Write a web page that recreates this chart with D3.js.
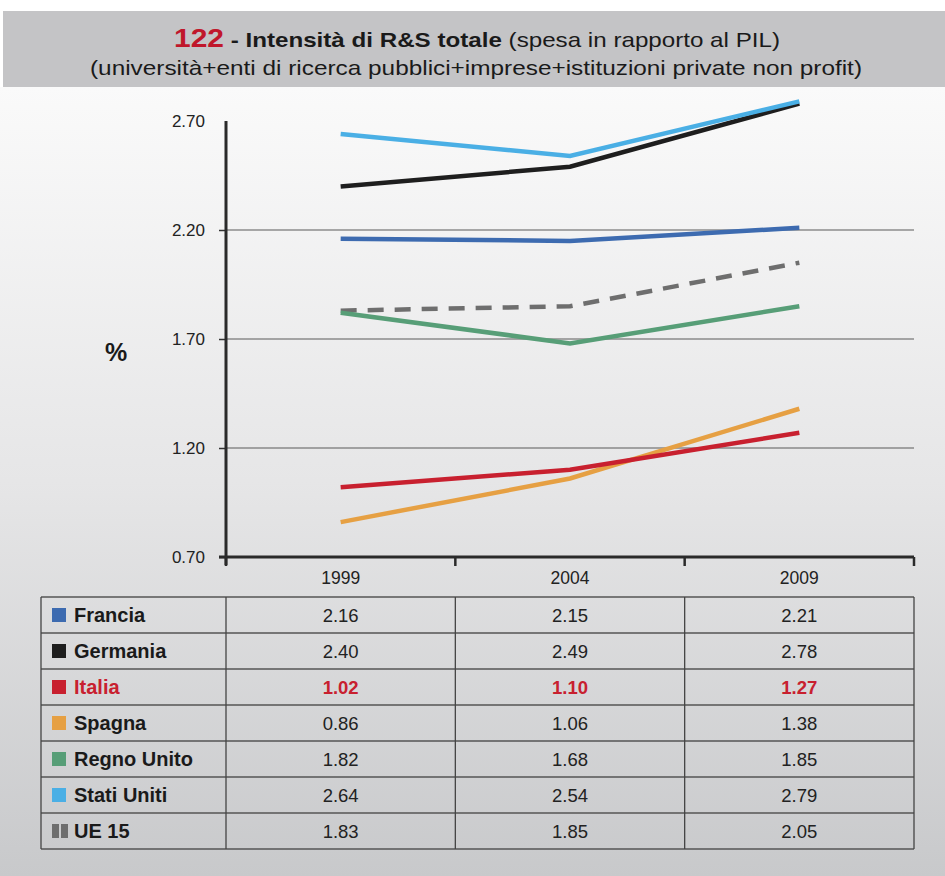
<!DOCTYPE html>
<html>
<head>
<meta charset="utf-8">
<script src="https://cdn.jsdelivr.net/npm/d3@7/dist/d3.min.js"></script>
<style>
  html, body { margin: 0; padding: 0; background: #ffffff; }
  svg { display: block; }
  text { font-family: "Liberation Sans", Arial, Helvetica, sans-serif; }
</style>
</head>
<body>
<svg id="chart" width="945" height="876"></svg>
<script>
// Years on the x axis
const years = ["1999", "2004", "2009"];

// Series names, as shown in the table
const countries = ["Francia", "Germania", "Italia", "Spagna", "Regno Unito", "Stati Uniti", "UE 15"];

// R&D intensity (% of GDP) for each series, per year
const francia    = [2.16, 2.15, 2.21];
const germania   = [2.40, 2.49, 2.78];
const italia     = [1.02, 1.10, 1.27];
const spagna     = [0.86, 1.06, 1.38];
const regnoUnito = [1.82, 1.68, 1.85];
const statiUniti = [2.64, 2.54, 2.79];
const ue15       = [1.83, 1.85, 2.05];

// Y axis tick labels
const yTicks = [0.70, 1.20, 1.70, 2.20, 2.70];

const seriesValues = [francia, germania, italia, spagna, regnoUnito, statiUniti, ue15];
const colors = ["#3d6bb0", "#1e1e1e", "#c8202f", "#e6a043", "#579e77", "#4aafe5", "#6e6e6e"];

const svg = d3.select("#chart");

// ---- background ----
const defs = svg.append("defs");
const grad = defs.append("linearGradient").attr("id", "bg").attr("x1", 0).attr("y1", 0).attr("x2", 0).attr("y2", 1);
grad.append("stop").attr("offset", "0%").attr("stop-color", "#fafafa");
grad.append("stop").attr("offset", "50%").attr("stop-color", "#e6e6e7");
grad.append("stop").attr("offset", "100%").attr("stop-color", "#c8c9cb");
svg.append("rect").attr("x", 0).attr("y", 87).attr("width", 945).attr("height", 789).attr("fill", "url(#bg)");

// ---- title bar ----
svg.append("rect").attr("x", 3).attr("y", 11).attr("width", 942).attr("height", 76).attr("fill", "#c4c4c6");

function fitWidth(sel, w) {
  sel.attr("textLength", w).attr("lengthAdjust", "spacingAndGlyphs");
}

const t1 = svg.append("text").attr("x", 477).attr("y", 47).attr("text-anchor", "middle").attr("fill", "#1a1a1a");
t1.append("tspan").attr("font-size", 26).attr("font-weight", "bold").attr("fill", "#c0172b").text("122");
t1.append("tspan").attr("font-size", 21).attr("font-weight", "bold").text(" - Intensità di R&S totale ");
t1.append("tspan").attr("font-size", 21).text("(spesa in rapporto al PIL)");
fitWidth(t1, 606);

const t2 = svg.append("text").attr("x", 476).attr("y", 75).attr("text-anchor", "middle")
  .attr("font-size", 21).attr("fill", "#1a1a1a")
  .text("(università+enti di ricerca pubblici+imprese+istituzioni private non profit)");
fitWidth(t2, 772);

// ---- scales ----
const plotLeft = 226, plotRight = 914, plotTop = 121, plotBottom = 557;
const x = d3.scaleBand().domain(years).range([plotLeft, plotRight]);
const y = d3.scaleLinear().domain([0.70, 2.70]).range([plotBottom, plotTop]);

// gridlines
svg.append("g").selectAll("line")
  .data(yTicks.filter(v => v > 0.71 && v < 2.69))
  .join("line")
  .attr("x1", plotLeft).attr("x2", plotRight)
  .attr("y1", d => y(d)).attr("y2", d => y(d))
  .attr("stroke", "#5a5a5a").attr("stroke-width", 1.2);

// y axis
const yAxis = svg.append("g").attr("transform", `translate(${plotLeft},0)`)
  .call(d3.axisLeft(y).tickValues(yTicks).tickSize(7).tickPadding(14).tickFormat(d3.format(".2f")));
yAxis.select(".domain").remove();
yAxis.selectAll(".tick line").attr("stroke", "#333").attr("stroke-width", 1.5)
  .filter(d => d > 2.69).remove();
yAxis.selectAll(".tick text").attr("font-size", 17).attr("fill", "#222")
  .attr("font-family", "'Liberation Sans', Arial, sans-serif");
svg.append("line").attr("x1", plotLeft).attr("x2", plotLeft).attr("y1", plotTop).attr("y2", plotBottom + 8)
  .attr("stroke", "#2a2a2a").attr("stroke-width", 3);

// x axis
const xAxis = svg.append("g").attr("transform", `translate(0,${plotBottom})`)
  .call(d3.axisBottom(x).tickSize(0).tickPadding(15));
xAxis.select(".domain").remove();
xAxis.selectAll(".tick text").attr("font-size", 17.5).attr("fill", "#222")
  .attr("font-family", "'Liberation Sans', Arial, sans-serif");
svg.append("line").attr("x1", plotLeft - 7).attr("x2", plotRight).attr("y1", plotBottom).attr("y2", plotBottom)
  .attr("stroke", "#2a2a2a").attr("stroke-width", 3);
const bounds = years.map(d => x(d)).concat([plotRight]);
svg.append("g").selectAll("line").data(bounds).join("line")
  .attr("x1", d => d).attr("x2", d => d)
  .attr("y1", plotBottom).attr("y2", plotBottom + 9)
  .attr("stroke", "#2a2a2a").attr("stroke-width", 2.5);

// axis unit
svg.append("text").attr("x", 116).attr("y", 361).attr("text-anchor", "middle")
  .attr("font-size", 25).attr("font-weight", "bold").attr("fill", "#1a1a1a").text("%");

// ---- lines ----
const line = d3.line()
  .x((d, i) => x(years[i]) + x.bandwidth() / 2)
  .y(d => y(d));

const drawOrder = [6, 4, 3, 2, 0, 1, 5];
svg.append("g").selectAll("path")
  .data(drawOrder)
  .join("path")
  .attr("d", i => line(seriesValues[i]))
  .attr("fill", "none")
  .attr("stroke", i => colors[i])
  .attr("stroke-width", 4.5)
  .attr("stroke-dasharray", i => countries[i] === "UE 15" ? "16,11" : null);

// ---- data table ----
const tableTop = 597, rowH = 36;
const colEdges = [41, plotLeft].concat(years.map(d => x(d) + x.bandwidth()));
const table = svg.append("g");
const rows = table.selectAll("g.row").data(countries).join("g")
  .attr("class", "row")
  .attr("transform", (d, i) => `translate(0,${tableTop + i * rowH})`);

// swatches
rows.each(function (name, i) {
  const g = d3.select(this);
  if (name === "UE 15") {
    g.append("rect").attr("x", 52).attr("y", 11).attr("width", 7).attr("height", 14).attr("fill", colors[i]);
    g.append("rect").attr("x", 61).attr("y", 11).attr("width", 7).attr("height", 14).attr("fill", colors[i]);
  } else {
    g.append("rect").attr("x", 52).attr("y", 11).attr("width", 14).attr("height", 14).attr("fill", colors[i]);
  }
});

rows.append("text")
  .attr("x", 74).attr("y", 25)
  .attr("font-size", 20).attr("font-weight", "bold")
  .attr("fill", d => d === "Italia" ? "#c8202f" : "#1a1a1a")
  .text(d => d);

rows.selectAll("text.val")
  .data((d, i) => seriesValues[i].map((v, j) => ({ v, j, name: d })))
  .join("text")
  .attr("class", "val")
  .attr("x", d => x(years[d.j]) + x.bandwidth() / 2)
  .attr("y", 25)
  .attr("text-anchor", "middle")
  .attr("font-size", 18.5)
  .attr("font-weight", d => d.name === "Italia" ? "bold" : "normal")
  .attr("fill", d => d.name === "Italia" ? "#c8202f" : "#222")
  .text(d => d3.format(".2f")(d.v));

// grid of the table
const tableBottom = tableTop + countries.length * rowH;
table.append("g").selectAll("line")
  .data(d3.range(countries.length + 1))
  .join("line")
  .attr("x1", colEdges[0]).attr("x2", colEdges[colEdges.length - 1])
  .attr("y1", i => tableTop + i * rowH).attr("y2", i => tableTop + i * rowH)
  .attr("stroke", "#555").attr("stroke-width", 1.5);
table.append("g").selectAll("line")
  .data(colEdges)
  .join("line")
  .attr("x1", d => d).attr("x2", d => d)
  .attr("y1", tableTop).attr("y2", tableBottom)
  .attr("stroke", "#444").attr("stroke-width", 1.3);
</script>
</body>
</html>
